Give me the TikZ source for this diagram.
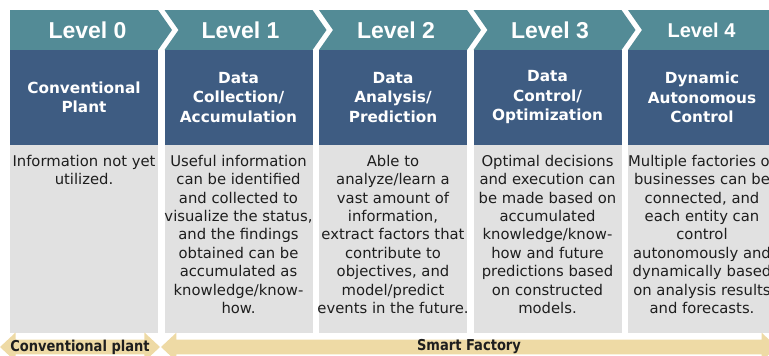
\documentclass[tikz,border=0pt]{standalone}
\usepackage{fontspec}
\setmainfont{DejaVu Sans}
\newfontfamily\levelfont{Liberation Sans}
\newfontfamily\titlefont{DejaVu Sans}
\newfontfamily\bannerfont{DejaVu Sans}[FakeStretch=0.87]
\usepackage{tikz}
\usetikzlibrary{
    shapes.arrows,
    positioning
}
\definecolor{levelteal}{RGB}{83, 139, 150}
\definecolor{stageblue}{RGB}{62, 92, 130}
\definecolor{infogrey}{RGB}{225, 225, 225}
\definecolor{bannertan}{RGB}{238, 218, 165}
\definecolor{bodytext}{RGB}{30, 30, 30}
\tikzstyle{chevron} = [
    fill=levelteal
]
\tikzstyle{leveltext} = [
    text=white,
    inner sep=0pt,
    font=\levelfont\bfseries\fontsize{23}{27}\selectfont
]
\tikzstyle{stage} = [
    rectangle,
    fill=stageblue,
    text=white,
    align=center,
    minimum width=148pt,
    minimum height=95pt,
    inner sep=0pt,
    font=\titlefont\bfseries\fontsize{15.3}{19.5}\selectfont
]
\tikzstyle{infobox} = [
    rectangle,
    fill=infogrey,
    minimum width=148pt,
    minimum height=188pt,
    inner sep=0pt
]
\tikzstyle{infotext} = [
    align=center,
    inner sep=0pt,
    text=bodytext,
    font=\fontsize{14.8}{18.4}\selectfont
]
\tikzstyle{phasearrow} = [
    double arrow,
    double arrow head extend=7pt,
    double arrow tip angle=86,
    fill=bannertan,
    text=bodytext,
    minimum width=28pt,
    inner sep=0pt,
    font=\bannerfont\bfseries\fontsize{15}{18}\selectfont
]

\begin{document}
\begin{tikzpicture}[x=1pt, y=-1pt]
    \useasboundingbox (0,0) rectangle (769,356);
    \clip (0,0) rectangle (769,356);

    % Level chevrons
    \fill[chevron] (10,10) -- (158,10) -- (172,30) -- (158,50) -- (10,50) -- cycle;
    \fill[chevron] (164.5,10) -- ++(148,0) -- ++(14,20) -- ++(-14,20) -- ++(-148,0) -- ++(14,-20) -- cycle;
    \fill[chevron] (319,10) -- ++(148,0) -- ++(14,20) -- ++(-14,20) -- ++(-148,0) -- ++(14,-20) -- cycle;
    \fill[chevron] (473.5,10) -- ++(148,0) -- ++(14,20) -- ++(-14,20) -- ++(-148,0) -- ++(14,-20) -- cycle;
    \fill[chevron] (628,10) -- ++(148,0) -- ++(14,20) -- ++(-14,20) -- ++(-148,0) -- ++(14,-20) -- cycle;

    \node[leveltext] (lv0) at (87.5,30) {Level 0};
    \node[leveltext] (lv1) at (240.5,30) {Level 1};
    \node[leveltext] (lv2) at (396,30) {Level 2};
    \node[leveltext] (lv3) at (550,30) {Level 3};
    \node[leveltext, font=\levelfont\bfseries\fontsize{20}{24}\selectfont] (lv4) at (701.5,30) {Level 4};

    % Stage titles
    \node[stage] (st0) at (84,97.5) {Conventional\\Plant};
    \node[stage] (st1) at (238.5,97.5) {Data\\Collection/\\Accumulation};
    \node[stage] (st2) at (393,97.5) {Data\\Analysis/\\Prediction};
    \node[stage] (st3) at (547.5,97.5) {Data\\Control/\\Optimization};
    \node[stage] (st4) at (702,97.5) {Dynamic\\Autonomous\\Control};

    % Descriptions
    \node[infobox] (info0) at (84,239) {};
    \node[infobox] (info1) at (238.5,239) {};
    \node[infobox] (info2) at (393,239) {};
    \node[infobox] (info3) at (547.5,239) {};
    \node[infobox] (info4) at (702,239) {};

    \node[infotext, below=10pt of info0.north] (txt0) {Information not yet\\utilized.};
    \node[infotext, below=10pt of info1.north] (txt1) {Useful information\\can be identified\\and collected to\\visualize the status,\\and the findings\\obtained can be\\accumulated as\\knowledge/know-\\how.};
    \node[infotext, below=10pt of info2.north] (txt2) {Able to\\analyze/learn a\\vast amount of\\information,\\extract factors that\\contribute to\\objectives, and\\model/predict\\events in the future.};
    \node[infotext, below=10pt of info3.north] (txt3) {Optimal decisions\\and execution can\\be made based on\\accumulated\\knowledge/know-\\how and future\\predictions based\\on constructed\\models.};
    \node[infotext, below=10pt of info4.north] (txt4) {Multiple factories or\\businesses can be\\connected, and\\each entity can\\control\\autonomously and\\dynamically based\\on analysis results\\and forecasts.};

    % Bottom phase arrows
    \node[phasearrow, minimum height=160pt] (conv) at (80,347) {Conventional plant};
    \node[phasearrow, minimum height=616pt] (smart) at (469,347) {Smart Factory};

\end{tikzpicture}
\end{document}
